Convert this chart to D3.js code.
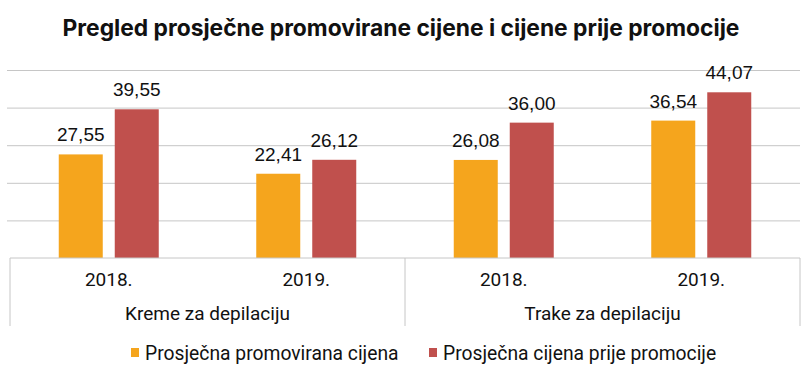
<!DOCTYPE html>
<html>
<head>
<meta charset="utf-8">
<script src="https://cdn.jsdelivr.net/npm/d3@7"></script>
<style>
  body { margin: 0; background: #fff; }
  svg text { fill: #111; }
</style>
</head>
<body>
<div id="chart"></div>
<script>
// chart data
var categories = ["Kreme za depilaciju", "Trake za depilaciju"];
var years = ["2018.", "2019."];
var seriesNames = ["Prosječna promovirana cijena", "Prosječna cijena prije promocije"];
var promoted = [27.55, 22.41, 26.08, 36.54];
var beforePromo = [39.55, 26.12, 36.00, 44.07];
var yTicks = [0, 10, 20, 30, 40, 50];
var colors = ["#f5a51d", "#c0504d"];

var width = 811, height = 373;
var plotLeft = 10, plotRight = 800, plotTop = 70, plotBase = 258;

var rows = [];
categories.forEach(function(c, ci) {
    years.forEach(function(y, yi) {
        var i = ci * years.length + yi;
        rows.push({ key: c + "|" + y, cat: c, year: y, values: [promoted[i], beforePromo[i]] });
    });
});

var svg = d3.select("#chart")
    .append("svg")
    .attr("width", width)
    .attr("height", height);

var x0 = d3.scaleBand()
    .domain(rows.map(function(d) { return d.key; }))
    .range([plotLeft, plotRight]);

var x1 = d3.scaleBand()
    .domain([0, 1])
    .range([x0.bandwidth() / 2 - 50, x0.bandwidth() / 2 + 50])
    .paddingInner(12 / 56);

var y = d3.scaleLinear()
    .domain([0, 50])
    .range([plotBase, plotTop]);

// title
svg.append("text")
    .attr("x", 401)
    .attr("y", 36)
    .attr("text-anchor", "middle")
    .style("font-family", "Inter, 'DejaVu Sans', sans-serif")
    .style("font-weight", "700")
    .style("font-size", "22.8px")
    .text("Pregled prosječne promovirane cijene i cijene prije promocije");

// gridlines
svg.append("g")
    .attr("transform", "translate(" + plotRight + ",0)")
    .call(d3.axisLeft(y).tickValues(yTicks.slice(1)).tickSize(plotRight - 7).tickFormat(""))
    .call(function(g) {
        g.select(".domain").remove();
        g.selectAll("line").attr("stroke", "#c6c6c6");
    });

// bars
var groups = svg.append("g")
    .selectAll("g")
    .data(rows)
    .enter().append("g")
    .attr("transform", function(d) { return "translate(" + x0(d.key) + ",0)"; });

groups.selectAll("rect")
    .data(function(d) { return d.values; })
    .enter().append("rect")
    .attr("x", function(d, i) { return x1(i); })
    .attr("y", function(d) { return y(d); })
    .attr("width", x1.bandwidth())
    .attr("height", function(d) { return y(0) - y(d); })
    .attr("fill", function(d, i) { return colors[i]; });

groups.selectAll("text")
    .data(function(d) { return d.values; })
    .enter().append("text")
    .attr("x", function(d, i) { return x1(i) + x1.bandwidth() / 2; })
    .attr("y", function(d) { return y(d) - 13; })
    .attr("text-anchor", "middle")
    .style("font-family", "'Liberation Sans', Arial, sans-serif")
    .style("font-size", "19px")
    .text(function(d) { return d3.format(".2f")(d).replace(".", ","); });

// category axis
var axis = svg.append("g");
axis.append("line")
    .attr("x1", plotLeft).attr("x2", plotRight)
    .attr("y1", plotBase).attr("y2", plotBase)
    .attr("stroke", "#c6c6c6");

var catScale = d3.scaleBand().domain(categories).range([plotLeft, plotRight]);
var seps = [plotLeft].concat(categories.map(function(c) { return catScale(c) + catScale.bandwidth(); }));
axis.selectAll(".sep")
    .data(seps)
    .enter().append("line")
    .attr("x1", function(d) { return d; }).attr("x2", function(d) { return d; })
    .attr("y1", plotBase).attr("y2", 326)
    .attr("stroke", "#c6c6c6");

axis.selectAll(".year")
    .data(rows)
    .enter().append("text")
    .attr("x", function(d) { return x0(d.key) + x0.bandwidth() / 2; })
    .attr("y", 286)
    .attr("text-anchor", "middle")
    .style("font-family", "Roboto, sans-serif")
    .style("font-size", "19px")
    .text(function(d) { return d.year; });

axis.selectAll(".cat")
    .data(categories)
    .enter().append("text")
    .attr("x", function(d) { return catScale(d) + catScale.bandwidth() / 2; })
    .attr("y", 320)
    .attr("text-anchor", "middle")
    .style("font-family", "Roboto, sans-serif")
    .style("font-size", "19px")
    .text(function(d) { return d; });

// legend
var legendX = [131, 429];
var legend = svg.append("g")
    .selectAll("g")
    .data(seriesNames)
    .enter().append("g")
    .attr("transform", function(d, i) { return "translate(" + legendX[i] + ",348)"; });

legend.append("rect")
    .attr("width", 8).attr("height", 9)
    .attr("fill", function(d, i) { return colors[i]; });

legend.append("text")
    .attr("x", 14)
    .attr("y", 12)
    .style("font-family", "Roboto, sans-serif")
    .style("font-size", "19.3px")
    .text(function(d) { return d; });
</script>
</body>
</html>
